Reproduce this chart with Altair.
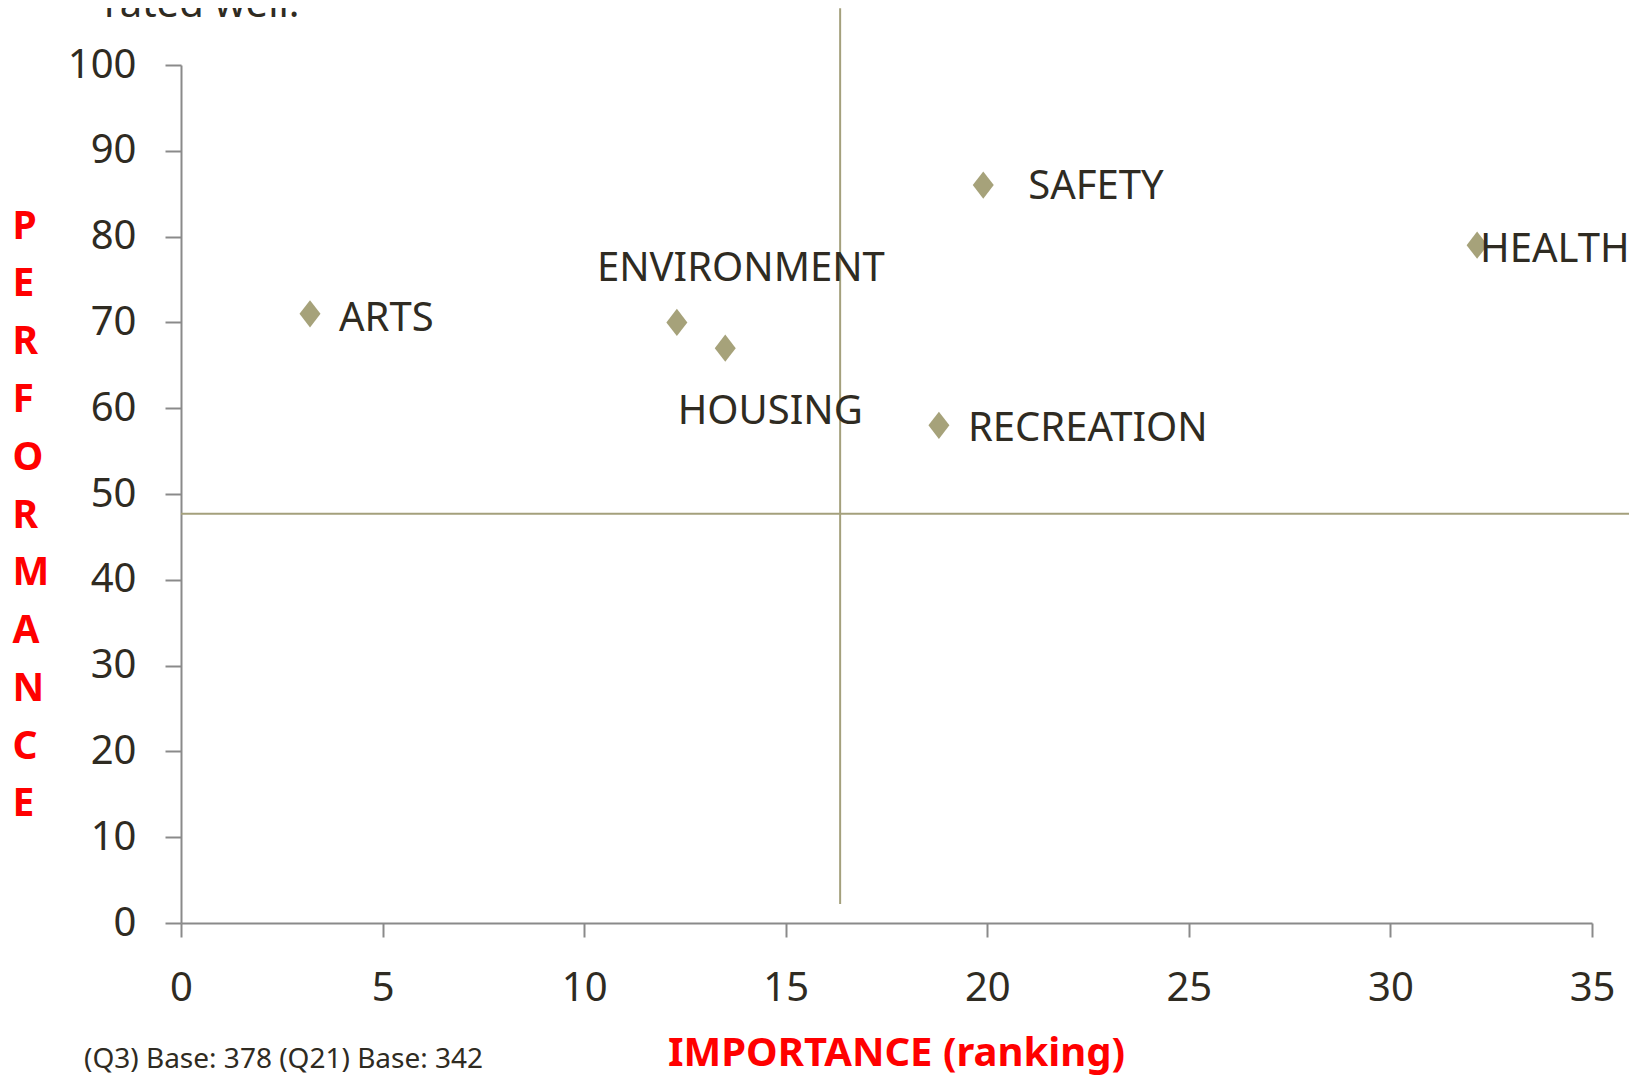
import altair as alt
import pandas as pd

# ---------------- data ----------------
categories = ["ARTS", "ENVIRONMENT", "HOUSING", "SAFETY", "HEALTH", "RECREATION"]
importance = [3.2, 12.3, 13.5, 19.9, 32.15, 18.8]
performance = [71, 70, 67, 86, 79, 58]

x_ticks = [0, 5, 10, 15, 20, 25, 30, 35]
y_ticks = [0, 10, 20, 30, 40, 50, 60, 70, 80, 90, 100]

# quadrant divider lines (data units)
v_line_x = [16.35]
v_line_y = [106.6]
v_line_y2 = [2.2]
h_line_y = [47.7]
h_line_x = [0]
h_line_x2 = [36.6]

x_title = "IMPORTANCE (ranking)"
y_title = list("PERFORMANCE")
top_text = "rated well."
note_text = "(Q3) Base: 378 (Q21) Base: 342"

# ---------------- styles ----------------
FONT = "Noto Sans"
DARK = "#2F2B22"
MARKER = "#A6A27A"
LINE = "#A4A07C"
AXIS = "#8A8A8A"
RED = "#FF0000"

label_style = {
    "ARTS": dict(align="left", dx=29, dy=17),
    "ENVIRONMENT": dict(align="center", dx=64, dy=-41),
    "HOUSING": dict(align="center", dx=45, dy=76),
    "SAFETY": dict(align="left", dx=45, dy=14),
    "HEALTH": dict(align="left", dx=3, dy=17),
    "RECREATION": dict(align="left", dx=29, dy=16),
}

df = pd.DataFrame({"category": categories, "importance": importance, "performance": performance})

xscale = alt.Scale(domain=[0, 35], nice=False, zero=False)
yscale = alt.Scale(domain=[0, 100], nice=False, zero=False)

x_axis = alt.Axis(
    values=x_ticks, title=x_title, grid=False,
    titleColor=RED, titleFont=FONT, titleFontSize=40, titleFontWeight="bold",
    titleX=715, titleY=142, titleAlign="center", titleBaseline="alphabetic", titleAngle=0,
    labelFont=FONT, labelFontSize=40, labelColor=DARK, labelPadding=63,
    labelBaseline="alphabetic", labelFlush=False, labelOverlap=False,
    tickSize=14, tickColor=AXIS, tickWidth=2, domainColor=AXIS, domainWidth=2,
)
y_axis = alt.Axis(
    values=y_ticks, title=y_title, grid=False,
    titleColor=RED, titleFont=FONT, titleFontSize=39, titleFontWeight="bold",
    titleAngle=0, titleX=-169, titleY=173, titleAlign="left", titleBaseline="alphabetic",
    titleLineHeight=57.8,
    labelFont=FONT, labelFontSize=40, labelColor=DARK, labelPadding=29,
    labelFlush=False, labelOverlap=False,
    tickSize=16, tickColor=AXIS, tickWidth=2, domainColor=AXIS, domainWidth=2,
)

X = alt.X("importance:Q", scale=xscale, axis=x_axis)
Y = alt.Y("performance:Q", scale=yscale, axis=y_axis)

base = alt.Chart(df)

points = base.mark_point(
    shape="M0,-1.3L1,0L0,1.3L-1,0Z", filled=True, size=441, color=MARKER, opacity=1
).encode(x=X, y=Y)

vdf = pd.DataFrame({"importance": v_line_x, "performance": v_line_y, "p2": v_line_y2})
vrule = alt.Chart(vdf).mark_rule(color=LINE, strokeWidth=2, clip=False).encode(
    x=X, y=Y, y2="p2:Q",
)

hdf = pd.DataFrame({"importance": h_line_x, "i2": h_line_x2, "performance": h_line_y})
hrule = alt.Chart(hdf).mark_rule(color=LINE, strokeWidth=2, clip=False).encode(
    x=X, x2="i2:Q", y=Y,
)

label_layers = []
for cat in categories:
    st = label_style[cat]
    label_layers.append(
        base.transform_filter(alt.datum.category == cat).mark_text(
            font=FONT, fontSize=40, color=DARK, baseline="alphabetic", **st
        ).encode(x=X, y=Y, text="category:N")
    )

top = alt.Chart(pd.DataFrame({"t": [top_text]})).mark_text(
    font=FONT, fontSize=40, color=DARK, align="left", baseline="alphabetic"
).encode(text="t:N", x=alt.value(-77), y=alt.value(-48))

note = alt.Chart(pd.DataFrame({"t": [note_text]})).mark_text(
    font=FONT, fontSize=28, color=DARK, align="left", baseline="alphabetic"
).encode(text="t:N", x=alt.value(-97), y=alt.value(1003))

chart = alt.layer(points, hrule, vrule, *label_layers, top, note).properties(
    width=1411, height=858,
    autosize=alt.AutoSizeParams(type="none"),
    padding={"left": 173, "top": 57, "right": 37, "bottom": 153},
    background="white",
).configure_view(stroke=None)

chart.save("out.html", embed_options={"renderer": "svg", "actions": False})
